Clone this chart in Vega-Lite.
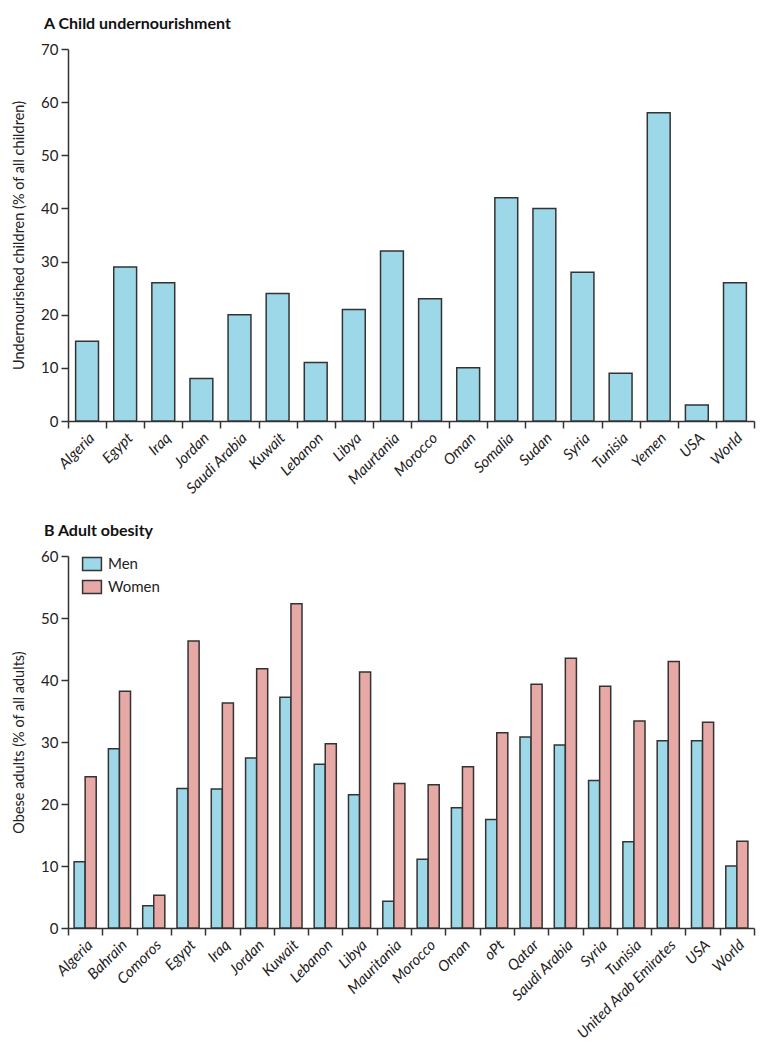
{
  "$schema": "https://vega.github.io/schema/vega-lite/v6.json",
  "padding": {"left": 11, "top": 16, "right": 5, "bottom": 5},
  "background": "white",
  "config": {
    "font": "Lato",
    "view": {"stroke": null},
    "axis": {"grid": false, "domainColor": "#333333", "tickColor": "#333333", "labelColor": "#222222", "titleColor": "#222222", "domainWidth": 1.5, "tickWidth": 1.5, "labelFontSize": 15, "titleFontSize": 14.5, "titleFontWeight": "normal"},
    "title": {"fontSize": 16, "fontWeight": "bold", "color": "#111111", "anchor": "start", "frame": "group"}
  },
  "resolve": {"legend": {"fill": "independent"}},
  "datasets": {
    "child": [
      {"country": "Algeria", "value": 15},
      {"country": "Egypt", "value": 29},
      {"country": "Iraq", "value": 26},
      {"country": "Jordan", "value": 8},
      {"country": "Saudi Arabia", "value": 20},
      {"country": "Kuwait", "value": 24},
      {"country": "Lebanon", "value": 11},
      {"country": "Libya", "value": 21},
      {"country": "Maurtania", "value": 32},
      {"country": "Morocco", "value": 23},
      {"country": "Oman", "value": 10},
      {"country": "Somalia", "value": 42},
      {"country": "Sudan", "value": 40},
      {"country": "Syria", "value": 28},
      {"country": "Tunisia", "value": 9},
      {"country": "Yemen", "value": 58},
      {"country": "USA", "value": 3},
      {"country": "World", "value": 26}
    ],
    "adult": [
      {"country": "Algeria", "sex": "Men", "value": 10.7},
      {"country": "Algeria", "sex": "Women", "value": 24.4},
      {"country": "Bahrain", "sex": "Men", "value": 28.9},
      {"country": "Bahrain", "sex": "Women", "value": 38.2},
      {"country": "Comoros", "sex": "Men", "value": 3.6},
      {"country": "Comoros", "sex": "Women", "value": 5.3},
      {"country": "Egypt", "sex": "Men", "value": 22.5},
      {"country": "Egypt", "sex": "Women", "value": 46.3},
      {"country": "Iraq", "sex": "Men", "value": 22.4},
      {"country": "Iraq", "sex": "Women", "value": 36.3},
      {"country": "Jordan", "sex": "Men", "value": 27.4},
      {"country": "Jordan", "sex": "Women", "value": 41.8},
      {"country": "Kuwait", "sex": "Men", "value": 37.2},
      {"country": "Kuwait", "sex": "Women", "value": 52.3},
      {"country": "Lebanon", "sex": "Men", "value": 26.4},
      {"country": "Lebanon", "sex": "Women", "value": 29.7},
      {"country": "Libya", "sex": "Men", "value": 21.5},
      {"country": "Libya", "sex": "Women", "value": 41.3},
      {"country": "Mauritania", "sex": "Men", "value": 4.3},
      {"country": "Mauritania", "sex": "Women", "value": 23.3},
      {"country": "Morocco", "sex": "Men", "value": 11.1},
      {"country": "Morocco", "sex": "Women", "value": 23.1},
      {"country": "Oman", "sex": "Men", "value": 19.4},
      {"country": "Oman", "sex": "Women", "value": 26.0},
      {"country": "oPt", "sex": "Men", "value": 17.5},
      {"country": "oPt", "sex": "Women", "value": 31.5},
      {"country": "Qatar", "sex": "Men", "value": 30.8},
      {"country": "Qatar", "sex": "Women", "value": 39.3},
      {"country": "Saudi Arabia", "sex": "Men", "value": 29.5},
      {"country": "Saudi Arabia", "sex": "Women", "value": 43.5},
      {"country": "Syria", "sex": "Men", "value": 23.8},
      {"country": "Syria", "sex": "Women", "value": 39.0},
      {"country": "Tunisia", "sex": "Men", "value": 13.9},
      {"country": "Tunisia", "sex": "Women", "value": 33.4},
      {"country": "United Arab Emirates", "sex": "Men", "value": 30.2},
      {"country": "United Arab Emirates", "sex": "Women", "value": 43.0},
      {"country": "USA", "sex": "Men", "value": 30.2},
      {"country": "USA", "sex": "Women", "value": 33.2},
      {"country": "World", "sex": "Men", "value": 10.0},
      {"country": "World", "sex": "Women", "value": 14.0}
    ]
  },
  "vconcat": [
    {
      "title": {"text": "A  Child undernourishment", "dx": -24, "offset": 10},
      "width": 686,
      "height": 372,
      "layer": [
        {
          "data": {"name": "child"},
          "mark": {"type": "bar", "width": {"band": 0.6}, "fill": "#9dd8e9", "stroke": "#333333", "strokeWidth": 1.5},
          "encoding": {
            "x": {"field": "country", "type": "nominal", "sort": null,
                  "scale": {"paddingInner": 0, "paddingOuter": 0},
                  "axis": {"orient": "bottom", "ticks": false, "domain": false, "labelAngle": -45, "labelFontStyle": "italic", "labelFontSize": 15, "labelPadding": 9, "title": null}},
            "y": {"field": "value", "type": "quantitative",
                  "scale": {"domain": [0, 70], "nice": false},
                  "axis": {"values": [0, 10, 20, 30, 40, 50, 60, 70], "tickSize": 7, "labelPadding": 3, "title": "Undernourished children (% of all children)", "titlePadding": 14}}
          }
        },
        {
          "data": {"values": [{}]},
          "mark": {"type": "rule", "opacity": 0},
          "encoding": {
            "x": {"datum": 0, "type": "quantitative",
                  "scale": {"domain": [0, 18], "nice": false, "zero": false},
                  "axis": {"orient": "bottom", "values": [0,1,2,3,4,5,6,7,8,9,10,11,12,13,14,15,16,17,18], "labels": false, "tickSize": 7, "title": null}}
          }
        }
      ],
      "resolve": {"scale": {"x": "independent"}, "axis": {"x": "independent"}}
    },
    {
      "title": {"text": "B  Adult obesity", "dx": -24, "offset": 10},
      "width": 686,
      "height": 372,
      "layer": [
        {
          "data": {"name": "adult"},
          "mark": {"type": "bar", "stroke": "#333333", "strokeWidth": 1.5},
          "encoding": {
            "x": {"field": "country", "type": "nominal", "sort": null,
                  "scale": {"paddingInner": 0, "paddingOuter": 0},
                  "axis": {"orient": "bottom", "ticks": false, "domain": false, "labelAngle": -45, "labelFontStyle": "italic", "labelFontSize": 15, "labelPadding": 9, "title": null}},
            "xOffset": {"field": "sex", "type": "nominal", "scale": {"paddingInner": 0, "paddingOuter": 0.55}},
            "y": {"field": "value", "type": "quantitative",
                  "scale": {"domain": [0, 60], "nice": false},
                  "axis": {"values": [0, 10, 20, 30, 40, 50, 60], "tickSize": 7, "labelPadding": 3, "title": "Obese adults (% of all adults)", "titlePadding": 14}},
            "fill": {"field": "sex", "type": "nominal",
                     "scale": {"domain": ["Men", "Women"], "range": ["#9dd8e9", "#e6a9a5"]},
                     "legend": {"title": null, "orient": "none", "legendX": 16, "legendY": 0, "labelFontSize": 15, "labelOffset": 8, "symbolType": "M-1.3,-0.9H1.3V0.9H-1.3Z", "symbolSize": 210, "symbolStrokeColor": "#333333", "symbolStrokeWidth": 1.5, "rowPadding": 3, "labelColor": "#222222"}}
          }
        },
        {
          "data": {"values": [{}]},
          "mark": {"type": "rule", "opacity": 0},
          "encoding": {
            "x": {"datum": 0, "type": "quantitative",
                  "scale": {"domain": [0, 20], "nice": false, "zero": false},
                  "axis": {"orient": "bottom", "values": [0,1,2,3,4,5,6,7,8,9,10,11,12,13,14,15,16,17,18,19,20], "labels": false, "tickSize": 7, "title": null}}
          }
        }
      ],
      "resolve": {"scale": {"x": "independent"}, "axis": {"x": "independent"}}
    }
  ],
  "spacing": 26
}
